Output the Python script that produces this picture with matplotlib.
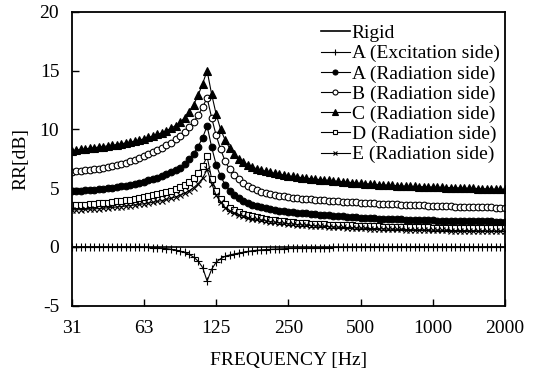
import matplotlib
matplotlib.use("Agg")
import matplotlib.pyplot as plt
from matplotlib.ticker import FixedLocator, FixedFormatter, NullLocator

plt.rcParams['font.family'] = ['Liberation Serif', 'DejaVu Serif']
plt.rcParams['axes.unicode_minus'] = False

# 1/16-octave frequency grid [Hz]
freq = [31.25, 32.63, 34.08, 35.59, 37.16, 38.81, 40.52, 42.32, 44.19, 46.15, 48.19, 50.32,
        52.56, 54.88, 57.31, 59.85, 62.5, 65.27, 68.15, 71.17, 74.33, 77.61, 81.05, 84.64,
        88.39, 92.30, 96.38, 100.65, 105.1, 109.8, 114.6, 119.7, 125.0, 130.5, 136.3, 142.3,
        148.7, 155.2, 162.1, 169.3, 176.8, 184.6, 192.8, 201.3, 210.2, 219.5, 229.2, 239.4,
        250.0, 261.1, 272.6, 284.7, 297.3, 310.5, 324.2, 338.6, 353.6, 369.2, 385.5, 402.6,
        420.4, 439.0, 458.5, 478.8, 500.0, 522.1, 545.3, 569.4, 594.6, 620.9, 648.4, 677.1,
        707.1, 738.4, 771.1, 805.2, 840.9, 878.1, 917.0, 957.6, 1000.0, 1044.3, 1090.5, 1138.8,
        1189.2, 1241.9, 1296.8, 1354.2, 1414.2, 1476.8, 1542.2, 1610.5, 1681.8, 1756.2, 1834.0,
        1915.2, 2000.0]

rigid_f = [31.25, 2000.0]
rigid = [0.0, 0.0]

a_exc = [0.0, 0.0, 0.0, 0.0, 0.0, 0.0, 0.0, 0.0, 0.0, 0.0, 0.0, 0.0, 0.0, 0.0, 0.0, 0.0,
         -0.02, -0.03, -0.05, -0.07, -0.1, -0.14, -0.19, -0.26, -0.35, -0.47, -0.63, -0.86,
         -1.2, -1.75, -2.9, -1.9, -1.3, -1.0, -0.8, -0.68, -0.6, -0.52, -0.45, -0.38, -0.32,
         -0.28, -0.25, -0.22, -0.2, -0.18, -0.16, -0.15, -0.13, -0.12, -0.1, -0.09, -0.08,
         -0.07, -0.06, -0.06, -0.05, -0.05, -0.04, -0.04, -0.03, -0.02, -0.02, -0.02, -0.02,
         -0.02, -0.02, -0.02, -0.02, -0.02, -0.02, 0.0, 0.0, 0.0, 0.0, 0.0, 0.0, 0.0, 0.0, 0.0,
         0.0, 0.0, 0.0, 0.0, 0.0, 0.0, 0.0, 0.0, 0.0, 0.0, 0.0, 0.0, 0.0, 0.0, 0.0, 0.0, 0.0]

a_rad = [4.75, 4.77, 4.79, 4.81, 4.84, 4.87, 4.91, 4.95, 5.0, 5.05, 5.1, 5.16, 5.23, 5.3,
         5.38, 5.47, 5.56, 5.66, 5.77, 5.89, 6.02, 6.17, 6.34, 6.53, 6.75, 7.05, 7.45, 7.95,
         8.55, 9.3, 10.3, 8.5, 7.0, 6.0, 5.3, 4.8, 4.45, 4.15, 3.9, 3.72, 3.58, 3.47, 3.38,
         3.3, 3.22, 3.16, 3.1, 3.05, 3.0, 2.96, 2.92, 2.88, 2.85, 2.82, 2.78, 2.75, 2.72,
         2.69, 2.66, 2.63, 2.6, 2.58, 2.55, 2.53, 2.5, 2.48, 2.46, 2.44, 2.42, 2.4, 2.39,
         2.37, 2.36, 2.34, 2.33, 2.31, 2.3, 2.29, 2.28, 2.27, 2.26, 2.25, 2.24, 2.23, 2.22,
         2.21, 2.21, 2.2, 2.2, 2.19, 2.18, 2.18, 2.17, 2.17, 2.16, 2.16, 2.15]

b_rad = [6.4, 6.43, 6.47, 6.51, 6.55, 6.6, 6.66, 6.72, 6.8, 6.88, 6.97, 7.07, 7.18, 7.3,
         7.43, 7.57, 7.72, 7.88, 8.05, 8.23, 8.43, 8.65, 8.88, 9.15, 9.45, 9.8, 10.2, 10.65,
         11.2, 11.9, 12.7, 11.0, 9.5, 8.3, 7.3, 6.6, 6.1, 5.75, 5.45, 5.2, 5.0, 4.85, 4.72,
         4.61, 4.51, 4.43, 4.36, 4.3, 4.24, 4.2, 4.16, 4.12, 4.08, 4.05, 4.02, 3.99, 3.96,
         3.94, 3.91, 3.88, 3.86, 3.84, 3.81, 3.79, 3.77, 3.75, 3.73, 3.71, 3.69, 3.67, 3.65,
         3.63, 3.62, 3.6, 3.59, 3.57, 3.56, 3.55, 3.53, 3.52, 3.5, 3.49, 3.48, 3.46, 3.45,
         3.44, 3.43, 3.42, 3.41, 3.4, 3.39, 3.38, 3.37, 3.36, 3.35, 3.34, 3.33]

c_rad = [8.2, 8.25, 8.3, 8.35, 8.4, 8.45, 8.5, 8.55, 8.6, 8.66, 8.72, 8.78, 8.85, 8.93,
         9.01, 9.1, 9.2, 9.32, 9.45, 9.58, 9.72, 9.9, 10.1, 10.33, 10.6, 11.0, 11.5, 12.1,
         12.9, 13.9, 15.0, 13.0, 11.3, 10.0, 9.1, 8.4, 7.9, 7.5, 7.2, 7.0, 6.8, 6.65, 6.55,
         6.45, 6.35, 6.27, 6.2, 6.12, 6.05, 6.0, 5.95, 5.9, 5.85, 5.81, 5.77, 5.73, 5.7,
         5.66, 5.62, 5.58, 5.55, 5.52, 5.48, 5.45, 5.42, 5.39, 5.36, 5.33, 5.3, 5.28, 5.26,
         5.24, 5.22, 5.2, 5.18, 5.16, 5.15, 5.14, 5.12, 5.11, 5.1, 5.09, 5.07, 5.06, 5.05,
         5.04, 5.02, 5.01, 5.0, 4.99, 4.97, 4.96, 4.95, 4.94, 4.92, 4.91, 4.9]

d_rad = [3.55, 3.57, 3.59, 3.61, 3.64, 3.67, 3.7, 3.74, 3.78, 3.82, 3.87, 3.92, 3.97, 4.03,
         4.09, 4.16, 4.23, 4.3, 4.38, 4.47, 4.57, 4.68, 4.8, 4.94, 5.1, 5.3, 5.55, 5.87, 6.3,
         6.9, 7.7, 5.8, 4.8, 4.1, 3.65, 3.35, 3.12, 2.95, 2.82, 2.7, 2.6, 2.52, 2.45, 2.39,
         2.33, 2.27, 2.22, 2.17, 2.13, 2.1, 2.07, 2.04, 2.01, 1.99, 1.97, 1.95, 1.93, 1.91,
         1.89, 1.87, 1.86, 1.84, 1.83, 1.81, 1.8, 1.79, 1.77, 1.76, 1.75, 1.74, 1.73, 1.72,
         1.71, 1.7, 1.7, 1.69, 1.68, 1.67, 1.67, 1.66, 1.65, 1.65, 1.64, 1.64, 1.63, 1.63,
         1.62, 1.62, 1.61, 1.61, 1.6, 1.6, 1.6, 1.59, 1.59, 1.58, 1.58]

e_rad = [3.15, 3.16, 3.18, 3.2, 3.22, 3.24, 3.27, 3.3, 3.33, 3.36, 3.4, 3.44, 3.48, 3.52,
         3.57, 3.62, 3.68, 3.74, 3.8, 3.87, 3.95, 4.04, 4.14, 4.26, 4.4, 4.57, 4.78, 5.04,
         5.38, 5.85, 6.6, 5.4, 4.4, 3.8, 3.35, 3.1, 2.9, 2.75, 2.62, 2.5, 2.42, 2.35, 2.28,
         2.22, 2.16, 2.11, 2.06, 2.02, 1.98, 1.95, 1.91, 1.88, 1.85, 1.82, 1.8, 1.77, 1.75,
         1.73, 1.7, 1.68, 1.66, 1.65, 1.63, 1.62, 1.6, 1.59, 1.57, 1.56, 1.55, 1.54, 1.52,
         1.51, 1.5, 1.49, 1.48, 1.47, 1.46, 1.45, 1.45, 1.44, 1.43, 1.42, 1.42, 1.41, 1.4,
         1.4, 1.39, 1.39, 1.38, 1.38, 1.37, 1.37, 1.36, 1.36, 1.35, 1.35, 1.35]

xticks = [31.25, 62.5, 125, 250, 500, 1000, 2000]
xtick_labels = ['31', '63', '125', '250', '500', '1000', '2000']
yticks = [-5, 0, 5, 10, 15, 20]
ytick_labels = ['-5', '0', '5', '10', '15', '20']

FS = 14

fig = plt.figure(figsize=(5.53, 3.74), dpi=100)
ax = fig.add_axes([0.1297, 0.1826, 0.7835, 0.7854])

lw = 0.8
ms = 4.8
mew = 0.8
ax.plot(rigid_f, rigid, color='black', lw=1.2, label='Rigid')
ax.plot(freq, a_exc, color='black', lw=lw, marker='+', ms=6, mew=mew,
        label='A (Excitation side)')
ax.plot(freq, a_rad, color='black', lw=lw, marker='o', ms=ms, mew=mew,
        mfc='black', label='A (Radiation side)')
ax.plot(freq, b_rad, color='black', lw=lw, marker='o', ms=ms, mew=mew,
        mfc='white', label='B (Radiation side)')
ax.plot(freq, c_rad, color='black', lw=lw, marker='^', ms=ms + 0.6, mew=mew,
        mfc='black', label='C (Radiation side)')
ax.plot(freq, d_rad, color='black', lw=lw, marker='s', ms=ms, mew=mew,
        mfc='white', label='D (Radiation side)')
ax.plot(freq, e_rad, color='black', lw=lw, marker='x', ms=ms, mew=mew,
        label='E (Radiation side)')

ax.set_xscale('log')
ax.set_xlim(31.25, 2000)
ax.set_ylim(-5, 20)
ax.xaxis.set_major_locator(FixedLocator(xticks))
ax.xaxis.set_major_formatter(FixedFormatter(xtick_labels))
ax.xaxis.set_minor_locator(NullLocator())
ax.yaxis.set_major_locator(FixedLocator(yticks))
ax.yaxis.set_major_formatter(FixedFormatter(ytick_labels))

ax.tick_params(direction='in', length=5, width=1.0, labelsize=FS, pad=9,
               top=False, right=False)
ax.tick_params(axis='x', pad=10)
for s in ax.spines.values():
    s.set_linewidth(1.3)

ax.set_xlabel('FREQUENCY [Hz]', fontsize=FS, labelpad=11)
ax.set_ylabel('RR[dB]', fontsize=FS, labelpad=7)

leg = ax.legend(loc='upper right', bbox_to_anchor=(1.01, 0.99), frameon=False,
                fontsize=FS, handlelength=1.5, handletextpad=0.1,
                labelspacing=0.13, borderaxespad=0.1, markerscale=0.75)

fig.savefig('out.png', dpi=100)
